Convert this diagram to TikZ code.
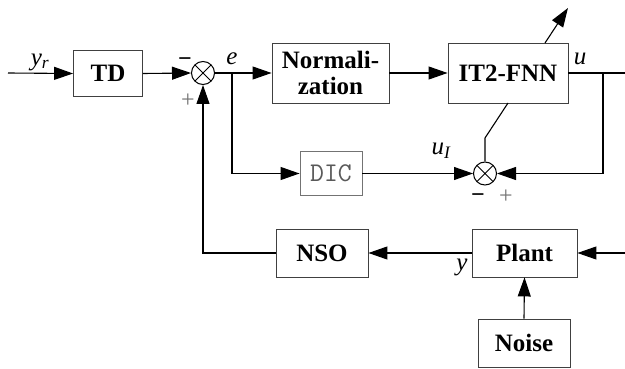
\documentclass[tikz,border=0pt]{standalone}
\usepackage{fontspec}
\setmainfont{Liberation Serif}
\usetikzlibrary{arrows.meta,calc}
\begin{document}
\begin{tikzpicture}[x=1pt,y=-1pt,
  line width=1.1pt,
  >={Triangle[length=19pt,width=13pt]},
  blk/.style={draw=black!75,line width=0.9pt,inner sep=0pt,align=center,
    font=\fontsize{25}{27}\selectfont\bfseries},
  lbl/.style={font=\fontsize{25}{27}\selectfont\itshape,inner sep=0pt},
  sgn/.style={font=\fontsize{24}{26}\selectfont,text=black!55,inner sep=0pt},
  sumj/.style={circle,draw,line width=1pt,minimum size=23pt,inner sep=0pt,
    path picture={\draw[line width=1pt] (path picture bounding box.north west)--(path picture bounding box.south east)
      (path picture bounding box.north east)--(path picture bounding box.south west);}}]
\useasboundingbox (0,0) rectangle (625,369);

% blocks
\node[blk,minimum width=69pt,minimum height=46pt] (td) at (108,73.5) {TD};
\node[blk,minimum width=117pt,minimum height=60pt] (norm) at (330.5,73) {Normali-\\[-1pt]zation};
\node[blk,minimum width=120pt,minimum height=60pt] (fnn) at (508,73) {IT2-FNN};
\node[blk,draw=black!55,minimum width=62pt,minimum height=44pt,
  font=\fontsize{27}{29}\selectfont\ttfamily,text=black!65] (dic) at (331,173.5) {DIC};
\node[blk,minimum width=92pt,minimum height=48pt] (nso) at (322,253) {NSO};
\node[blk,minimum width=105pt,minimum height=48pt] (plant) at (524.5,253) {Plant};
\node[blk,minimum width=92pt,minimum height=48pt] (noise) at (524,343) {Noise};

% summing junctions
\node[sumj] (s1) at (203,73) {};
\node[sumj] (s2) at (485,173.5) {};

% coordinates
\coordinate (in) at (8,73);
\coordinate (eb) at (232,73);
\coordinate (uout) at (625,73);
\coordinate (ub) at (603,73);
\coordinate (pin) at (625,253);
\coordinate (bend) at (485,138);
\coordinate (adapt) at (568,8);
\coordinate (fnnb) at (508,103);
\coordinate (fnnt) at (545,43);

% connectors
\draw[->] (in) -- (td.west);
\draw[->] (td.east) -- (s1.west);
\draw[->] (s1.east) -- (norm.west);
\draw[->] (norm.east) -- (fnn.west);
\draw (fnn.east) -- (uout);
\draw[->] (ub) |- (s2.east);
\draw[->] (eb) |- (dic.west);
\draw[->] (dic.east) -- (s2.west);
\draw (fnnb) -- (bend) -- (s2.north);
\draw[->] (fnnt) -- (adapt);
\draw[->] (pin) -- (plant.east);
\draw[->] (plant.west) -- (nso.east);
\draw[->] (nso.west) -| (s1.south);
\draw[->] (noise.north) -- (plant.south);

% labels
\node[lbl] (lyr) at (40,62) {y\textsubscript{\itshape r}};
\node[lbl] (le) at (232,59) {e};
\node[lbl] (lu) at (580,59) {u};
\node[lbl] (lui) at (441,151) {u\textsubscript{\itshape I}};
\node[lbl] (ly) at (462,267) {y};
\node[sgn,text=black] (m1) at (185,62) {\textbf{−}};
\node[sgn] (p1) at (188,101) {+};
\node[sgn,text=black] (m2) at (478,198) {\textbf{−}};
\node[sgn] (p2) at (506,197) {+};
\end{tikzpicture}
\end{document}
